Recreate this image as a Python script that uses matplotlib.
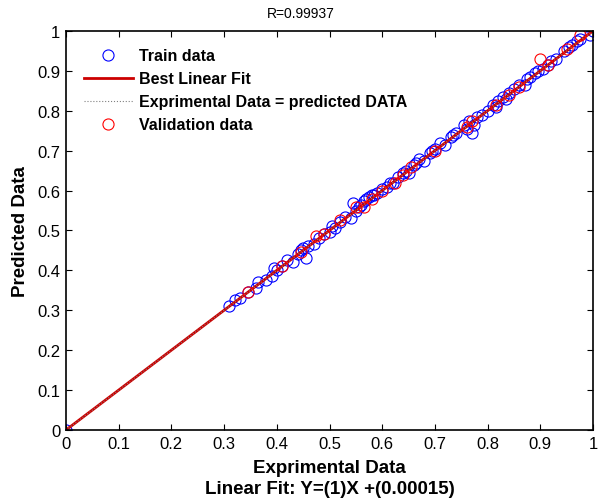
import matplotlib
matplotlib.use('Agg')
import matplotlib.pyplot as plt
import numpy as np

plt.rcParams['font.family'] = ['Liberation Sans', 'DejaVu Sans']

# ==================== data ====================
train_x = [0.0, 0.31, 0.32, 0.33, 0.345, 0.36, 0.365, 0.38, 0.39, 0.395, 0.40, 0.41, 0.42, 0.43,
           0.44, 0.445, 0.45, 0.455, 0.46, 0.47, 0.48, 0.49, 0.50, 0.505, 0.51, 0.52, 0.53, 0.54,
           0.545, 0.55, 0.555, 0.56, 0.565, 0.57, 0.575, 0.58, 0.585, 0.59, 0.60, 0.61, 0.615,
           0.62, 0.63, 0.64, 0.645, 0.65, 0.66, 0.665, 0.67, 0.68, 0.69, 0.695, 0.70, 0.71, 0.72,
           0.73, 0.735, 0.74, 0.755, 0.76, 0.765, 0.77, 0.775, 0.78, 0.79, 0.80, 0.81, 0.815,
           0.82, 0.83, 0.835, 0.84, 0.85, 0.86, 0.87, 0.875, 0.88, 0.89, 0.895, 0.905, 0.915,
           0.92, 0.93, 0.945, 0.955, 0.96, 0.97, 0.975, 1.0, 0.995]
train_y = [0.0, 0.31, 0.325, 0.33, 0.345, 0.355, 0.37, 0.375, 0.385, 0.405, 0.40, 0.41, 0.425, 0.42,
           0.44, 0.45, 0.455, 0.43, 0.46, 0.465, 0.48, 0.49, 0.495, 0.51, 0.505, 0.52, 0.535, 0.53,
           0.57, 0.55, 0.56, 0.565, 0.575, 0.58, 0.585, 0.59, 0.59, 0.595, 0.605, 0.61, 0.62,
           0.62, 0.635, 0.645, 0.65, 0.645, 0.665, 0.67, 0.68, 0.675, 0.695, 0.70, 0.705, 0.72, 0.715,
           0.735, 0.74, 0.745, 0.765, 0.755, 0.775, 0.745, 0.765, 0.785, 0.79, 0.80, 0.815, 0.81,
           0.825, 0.835, 0.83, 0.845, 0.855, 0.865, 0.865, 0.88, 0.885, 0.895, 0.90, 0.905, 0.915,
           0.925, 0.93, 0.95, 0.96, 0.965, 0.975, 0.98, 1.0, 0.99]

valid_x = [0.345, 0.41, 0.445, 0.475, 0.49, 0.52, 0.55, 0.565, 0.58, 0.60, 0.625, 0.64, 0.655,
           0.70, 0.76, 0.77, 0.815, 0.84, 0.86, 0.90, 0.915, 0.95, 0.975]
valid_y = [0.345, 0.41, 0.445, 0.485, 0.49, 0.525, 0.56, 0.56, 0.58, 0.60, 0.62, 0.64, 0.66,
           0.70, 0.76, 0.775, 0.815, 0.84, 0.86, 0.93, 0.915, 0.955, 0.99]

fit_slope = 1.0
fit_intercept = 0.00015
r_value = 0.99937
line_x = [0.0, 1.0]
tick_labels = ['0', '0.1', '0.2', '0.3', '0.4', '0.5', '0.6', '0.7', '0.8', '0.9', '1']

# ==================== plot ====================
fig = plt.figure(figsize=(5.98, 5.02), dpi=100)
ax = fig.add_axes([0.1104, 0.1414, 0.8813, 0.795])

ax.plot(train_x, train_y, 'o', mfc='none', mec='blue', ms=8, mew=0.8, label='Train data')
ax.plot(line_x, [fit_slope * v + fit_intercept for v in line_x], color='#cc0000', lw=2,
        label='Best Linear Fit')
ax.plot(line_x, line_x, color='gray', lw=0.8, ls=':', label='Exprimental Data = predicted DATA')
ax.plot(valid_x, valid_y, 'o', mfc='none', mec='red', ms=8, mew=0.8, label='Validation data')

ax.set_xlim(0, 1)
ax.set_ylim(0, 1)
ax.set_xticks(np.arange(0, 1.01, 0.1), tick_labels)
ax.set_yticks(np.arange(0, 1.01, 0.1), tick_labels)
ax.tick_params(direction='in', top=True, right=True, length=4, labelsize=12, pad=4)
for s in ax.spines.values():
    s.set_linewidth(1.2)

ax.set_title(f'R={r_value}', fontsize=10, pad=10, x=0.445)
ax.set_ylabel('Predicted Data', fontsize=13.5, fontweight='bold')
ax.yaxis.set_label_coords(-0.07, 0.5)
ax.set_xlabel(f'Exprimental Data\nLinear Fit: Y=({fit_slope:g})X +({fit_intercept})', fontsize=13.5,
              fontweight='bold', labelpad=6, linespacing=1.3)

ax.legend(loc='upper left', bbox_to_anchor=(0.022, 0.972), borderaxespad=0, frameon=False,
          prop={'weight': 'bold', 'size': 11.5}, handlelength=3.05, handletextpad=0.4,
          labelspacing=0.5)

plt.savefig('out.png', dpi=100, facecolor='white')
